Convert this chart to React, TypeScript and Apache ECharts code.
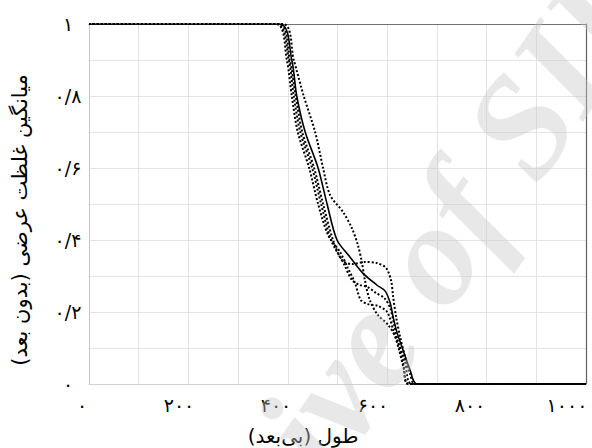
import React, { useEffect, useRef } from 'react';
import * as echarts from 'echarts';

const xTickLabels = ['۰', '۲۰۰', '۴۰۰', '۶۰۰', '۸۰۰', '۱۰۰۰'];
const yTickLabels = ['۰', '۰/۲', '۰/۴', '۰/۶', '۰/۸', '۱'];
const xTitle = 'طول (بی‌بعد)';
const yTitle = 'میانگین غلظت عرضی (بدون بعد)';
const watermarkText = 'Archive of SID';

const solidCurve = [
  [0, 1], [384, 1], [408, 0.9], [418, 0.8], [435, 0.7], [461, 0.6], [479, 0.5], [499, 0.4],
  [525, 0.353], [551, 0.308], [579, 0.275], [596, 0.258], [606, 0.225], [612, 0.186],
  [620, 0.142], [632, 0.094], [646, 0.039], [660, 0], [1000, 0],
];
const dotted1 = [
  [0, 1], [376, 1], [398, 0.9], [408, 0.8], [420, 0.7], [443, 0.6], [461, 0.5], [481, 0.414],
  [505, 0.367], [521, 0.322], [535, 0.281], [547, 0.233], [561, 0.222], [581, 0.217],
  [600, 0.2], [612, 0.15], [624, 0.094], [634, 0.039], [642, 0], [1000, 0],
];
const dotted2 = [
  [0, 1], [390, 1], [412, 0.9], [432, 0.8], [455, 0.7], [471, 0.6], [485, 0.525], [511, 0.478],
  [529, 0.433], [541, 0.386], [549, 0.339], [555, 0.289], [565, 0.233], [581, 0.192],
  [602, 0.164], [620, 0.122], [636, 0.061], [650, 0], [1000, 0],
];
const dotted3 = [
  [0, 1], [382, 1], [404, 0.9], [416, 0.8], [429, 0.7], [453, 0.6], [471, 0.5], [491, 0.4],
  [509, 0.344], [529, 0.333], [555, 0.339], [579, 0.336], [598, 0.322], [608, 0.286],
  [612, 0.242], [618, 0.186], [626, 0.131], [636, 0.075], [646, 0.028], [656, 0], [1000, 0],
];
const dotted4 = [
  [0, 1], [378, 1], [402, 0.9], [412, 0.8], [425, 0.7], [449, 0.6], [467, 0.5], [487, 0.4],
  [511, 0.339], [529, 0.289], [545, 0.275], [561, 0.269], [577, 0.253], [594, 0.239],
  [606, 0.211], [614, 0.164], [622, 0.114], [632, 0.061], [644, 0], [1000, 0],
];

const dottedCurves = [dotted1, dotted2, dotted3, dotted4];

const FA = "'DejaVu Sans', sans-serif";

export default function App() {
  const ref = useRef<HTMLDivElement>(null);
  useEffect(() => {
    if (!ref.current) return;
    const chart = echarts.init(ref.current, undefined, { renderer: 'svg' });
    const lineSeries: any[] = dottedCurves.map((d, i) => ({
      type: 'line',
      name: 'dotted' + (i + 1),
      xAxisIndex: 0,
      yAxisIndex: 0,
      data: d,
      smooth: 0.3,
      showSymbol: false,
      symbol: 'none',
      lineStyle: { color: '#000', width: 2, type: [2, 2] },
      z: 3,
    }));
    lineSeries.push({
      type: 'line',
      name: 'solid',
      xAxisIndex: 0,
      yAxisIndex: 0,
      data: solidCurve,
      smooth: 0.3,
      symbol: 'none',
      lineStyle: { color: '#000', width: 1.6 },
      z: 4,
    });
    chart.setOption({
      animation: false,
      backgroundColor: '#fff',
      grid: [
        { left: 89, right: 6, top: 24, bottom: 64 },
        { left: 82, right: 25, top: 24, bottom: 64 },
      ],
      xAxis: [
        {
          type: 'value', gridIndex: 0, min: 0, max: 1000, interval: 100,
          axisLine: { show: true, lineStyle: { color: '#d0d0d0', width: 1 } },
          axisTick: { show: false },
          axisLabel: { show: false },
          splitLine: { show: true, lineStyle: { color: '#e3e3e3', width: 1 } },
        },
        {
          type: 'value', gridIndex: 0, position: 'top', min: 0, max: 1000,
          axisLine: { show: true, onZero: false, lineStyle: { color: '#707070', width: 1.2 } },
          axisTick: { show: false }, axisLabel: { show: false }, splitLine: { show: false },
        },
        {
          type: 'value', gridIndex: 1, min: 0, max: 1000, interval: 200,
          axisLine: { show: false }, axisTick: { show: false }, splitLine: { show: false },
          axisLabel: {
            show: true, margin: 11, color: '#000', fontSize: 19, fontFamily: FA,
            formatter: (v: number) => xTickLabels[Math.round(v / 200)] ?? '',
          },
        },
      ],
      yAxis: [
        {
          type: 'value', gridIndex: 0, min: 0, max: 1, interval: 0.1,
          axisLine: { show: true, lineStyle: { color: '#c8c8c8', width: 1 } },
          axisTick: { show: false },
          splitLine: { show: true, lineStyle: { color: '#e3e3e3', width: 1 } },
          axisLabel: {
            show: true, margin: 21, align: 'center', color: '#000', fontSize: 19, fontFamily: FA,
            formatter: (v: number) => {
              const k = Math.round(v * 10);
              return k % 2 === 0 ? yTickLabels[k / 2] : '';
            },
          },
        },
        {
          type: 'value', gridIndex: 0, position: 'right', min: 0, max: 1,
          axisLine: { show: true, onZero: false, lineStyle: { color: '#606060', width: 1.2 } },
          axisTick: { show: false }, axisLabel: { show: false }, splitLine: { show: false },
        },
        { type: 'value', gridIndex: 1, min: 0, max: 1, show: false },
      ],
      graphic: [
        {
          type: 'text', x: 303, y: 436, z: 10,
          style: { text: xTitle, fill: '#000', fontSize: 20, fontFamily: FA, textAlign: 'center', textVerticalAlign: 'middle' },
        },
        {
          type: 'text', x: 20, y: 220, rotation: Math.PI / 2, z: 10,
          style: { text: yTitle, fill: '#000', fontSize: 21, fontFamily: FA, textAlign: 'center', textVerticalAlign: 'middle' },
        },
        {
          type: 'text', x: 377, y: 330, rotation: 55 * Math.PI / 180, z: 100, silent: true,
          style: {
            text: watermarkText, fill: 'rgba(200,200,200,0.42)', fontSize: 145,
            fontFamily: "'Liberation Serif', serif", fontWeight: 'bold', fontStyle: 'italic',
            textAlign: 'center', textVerticalAlign: 'middle',
          },
        },
      ],
      series: lineSeries,
    });
    return () => chart.dispose();
  }, []);
  return <div ref={ref} style={{ width: 592, height: 448, position: 'absolute', left: 0, top: 0 }} />;
}
